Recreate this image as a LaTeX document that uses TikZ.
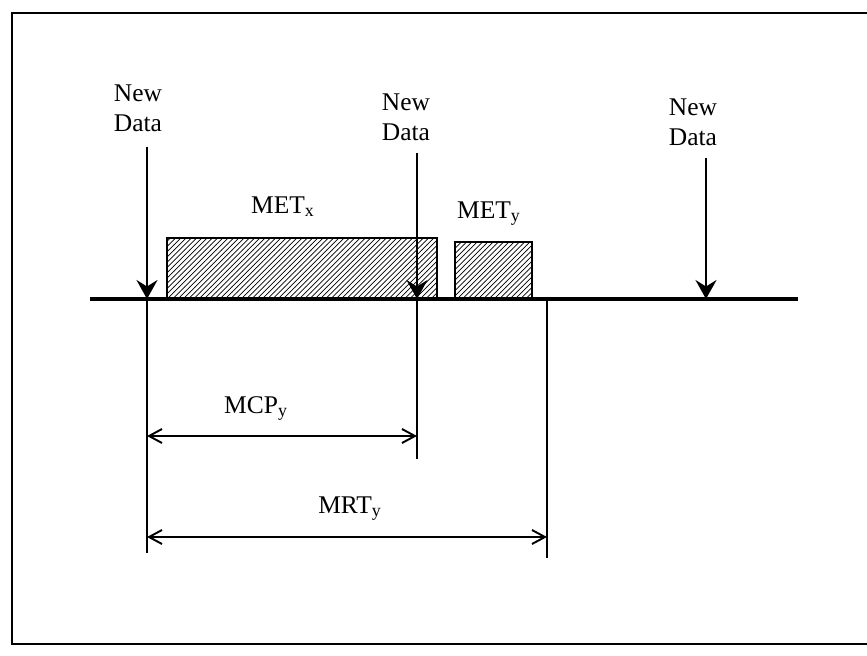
\documentclass[tikz,border=0pt]{standalone}
\usepackage{fontspec}
\setmainfont{Liberation Serif}
\usetikzlibrary{arrows.meta,patterns,positioning}

\begin{document}
\begin{tikzpicture}[
    x=0.02cm,y=-0.02cm,
    font=\fontsize{14.5}{17}\selectfont,
    frame/.style={line width=1.6pt},
    timeline/.style={line width=2.2pt},
    taskbox/.style={draw,line width=1.7pt,pattern=north east lines},
    lbl/.style={align=center,inner sep=0pt},
    newdata/.style={-{Stealth[length=3.8mm,width=4.2mm,inset=1.3mm]},line width=1.3pt},
    ext/.style={line width=0.9pt},
    dim/.style={{Straight Barb[length=2.6mm,width=2.8mm]}-{Straight Barb[length=2.6mm,width=2.8mm]},line width=1.1pt}
  ]
    \useasboundingbox (0,0) rectangle (867,656);
    \draw[frame] (867,13) -- (12,13) -- (12,644) -- (867,644);

    % time axis and event points
    \coordinate (t0) at (147,299);
    \coordinate (t1) at (417,299);
    \coordinate (t2) at (547,299);
    \coordinate (t3) at (706,299);
    \draw[timeline] (90,299) -- (798,299);

    % execution boxes
    \draw[taskbox] (167,238) rectangle (437,299);
    \draw[taskbox] (455,242) rectangle (532,299);
    \node[lbl,anchor=base] (metx) at (283,213) {MET\textsubscript{x}};
    \node[lbl,anchor=base] (mety) at (489,218) {MET\textsubscript{y}};

    % new data arrivals
    \node[lbl] (nd1) at (138,108) {New\\Data};
    \node[lbl] (nd2) at (406,117) {New\\Data};
    \node[lbl] (nd3) at (693,122) {New\\Data};
    \draw[newdata] ([yshift=-0.3cm]t0 |- nd1.south) -- (t0);
    \draw[newdata] ([yshift=-0.25cm]t1 |- nd2.south) -- (t1);
    \draw[newdata] ([yshift=-0.25cm]t3 |- nd3.south) -- (t3);

    % dimension lines
    \coordinate (e0) at (147,553);
    \coordinate (e1) at (417,459);
    \coordinate (e2) at (547,558);
    \draw[ext] (t0) -- (e0);
    \draw[ext] (t1) -- (e1);
    \draw[ext] (t2) -- (e2);

    \node[lbl,anchor=base] (mcp) at (256,413) {MCP\textsubscript{y}};
    \node[lbl,anchor=base] (mrt) at (350,513) {MRT\textsubscript{y}};
    \coordinate (mcpl) at (147,436);
    \coordinate (mcpr) at (417,436);
    \coordinate (mrtl) at (147,537);
    \coordinate (mrtr) at (547,537);
    \draw[dim] (mcpl) -- (mcpr);
    \draw[dim] (mrtl) -- (mrtr);
  \end{tikzpicture}
\end{document}
